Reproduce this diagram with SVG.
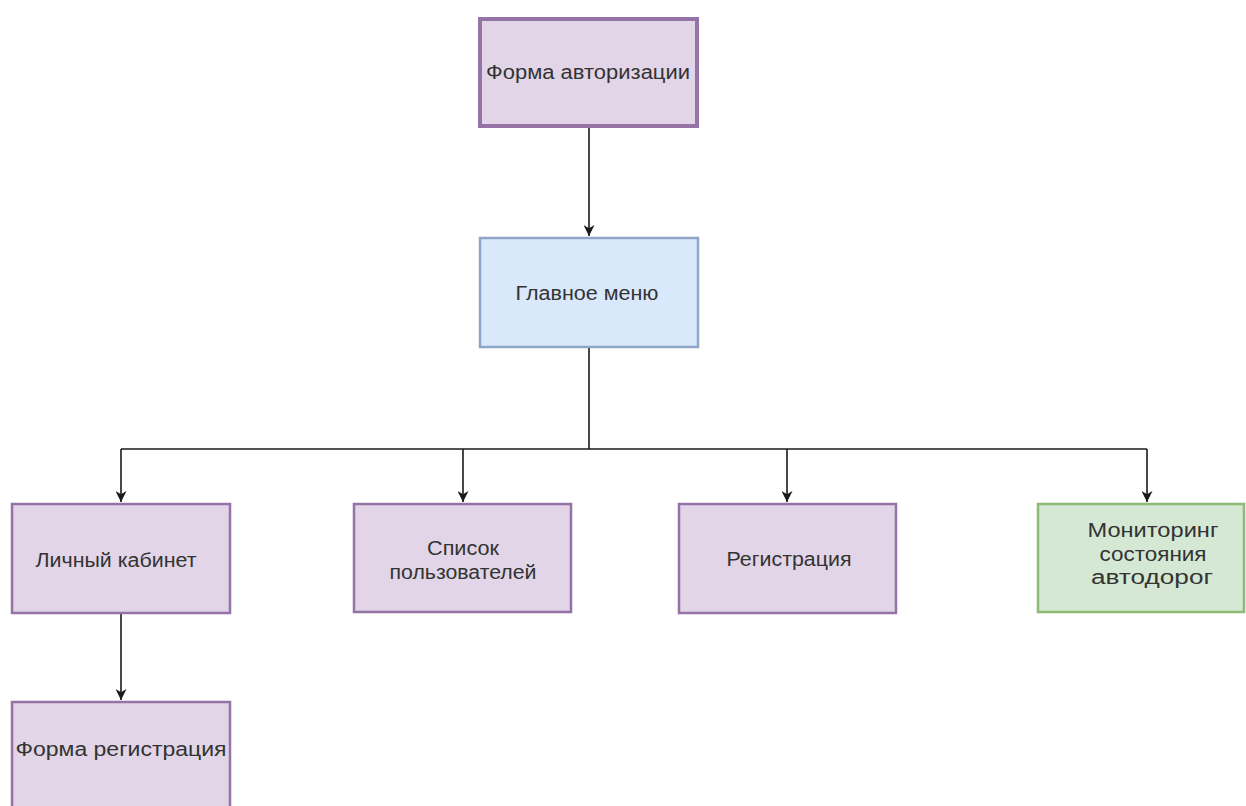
<svg xmlns="http://www.w3.org/2000/svg" width="1246" height="806" viewBox="0 0 1246 806">
<style>
.purple{fill:#e1d5e7;stroke:#9673a6;stroke-width:2.5}
.blue{fill:#dae8fc;stroke:#8ea5c6;stroke-width:2.5}
.green{fill:#d5e8d4;stroke:#8dbb76;stroke-width:2.5}
.lbl{font-family:"Liberation Sans",Arial,sans-serif;font-size:20px;fill:#333;text-anchor:middle}
.edge{fill:none;stroke:#1a1a1a;stroke-width:1.6}
</style>
<defs>
<marker id="arr" viewBox="0 0 10 10" refX="10" refY="5" markerWidth="11" markerHeight="11" markerUnits="userSpaceOnUse" orient="auto">
<path d="M0,0 L10,5 L0,10 L3,5 Z" fill="#1a1a1a"/>
</marker>
</defs>
<rect width="1246" height="806" fill="#ffffff"/>
<g id="connectors">
<path class="edge" d="M589,128 V236" marker-end="url(#arr)"/>
<path class="edge" d="M589,347 V449"/>
<path class="edge" d="M121,449 H1147"/>
<path class="edge" d="M121,449 V502" marker-end="url(#arr)"/>
<path class="edge" d="M463,449 V502" marker-end="url(#arr)"/>
<path class="edge" d="M787,449 V502" marker-end="url(#arr)"/>
<path class="edge" d="M1147,449 V502" marker-end="url(#arr)"/>
<path class="edge" d="M121,613 V700" marker-end="url(#arr)"/>
</g>
<g id="node-auth">
<rect class="purple" x="480" y="19" width="217" height="107" style="stroke-width:4"/>
<text class="lbl" x="588" y="79" textLength="204" lengthAdjust="spacingAndGlyphs">Форма авторизации</text>
</g>
<g id="node-menu">
<rect class="blue" x="480" y="238" width="218" height="109"/>
<text class="lbl" x="587" y="300" textLength="143" lengthAdjust="spacingAndGlyphs">Главное меню</text>
</g>
<g id="node-cabinet">
<rect class="purple" x="12" y="504" width="218" height="109"/>
<text class="lbl" x="116" y="567" textLength="161" lengthAdjust="spacingAndGlyphs">Личный кабинет</text>
</g>
<g id="node-users">
<rect class="purple" x="354" y="504" width="217" height="108"/>
<text class="lbl" x="463" y="555" textLength="72" lengthAdjust="spacingAndGlyphs">Список</text>
<text class="lbl" x="463" y="579" textLength="147" lengthAdjust="spacingAndGlyphs">пользователей</text>
</g>
<g id="node-registration">
<rect class="purple" x="679" y="504" width="217" height="109"/>
<text class="lbl" x="789" y="566" textLength="125" lengthAdjust="spacingAndGlyphs">Регистрация</text>
</g>
<g id="node-monitoring">
<rect class="green" x="1038" y="504" width="206" height="108"/>
<text class="lbl" x="1153" y="537" textLength="131" lengthAdjust="spacingAndGlyphs">Мониторинг</text>
<text class="lbl" x="1153" y="561" textLength="107" lengthAdjust="spacingAndGlyphs">состояния</text>
<text class="lbl" x="1152" y="584" textLength="122" lengthAdjust="spacingAndGlyphs">автодорог</text>
</g>
<g id="node-form-reg">
<rect class="purple" x="12" y="702" width="218" height="110"/>
<text class="lbl" x="121" y="756" textLength="211" lengthAdjust="spacingAndGlyphs">Форма регистрация</text>
</g>
</svg>
